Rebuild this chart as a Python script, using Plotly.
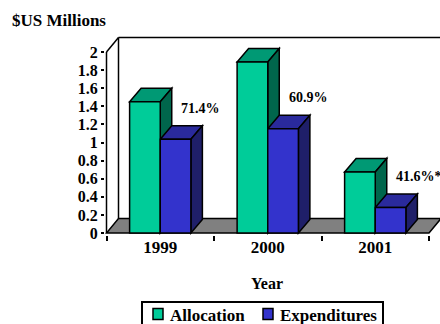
import plotly.graph_objects as go

# ---- data -------------------------------------------------------------
years = ["1999", "2000", "2001"]
allocation = [1.45, 1.89, 0.675]       # $US millions
expenditures = [1.035, 1.151, 0.281]   # $US millions
footnote_marks = ["", "", "*"]

# ---- geometry (pixels) -------------------------------------------------
W, H = 440, 324
ML, MR, MT, MB = 105, 0, 35, 89
X0_PX, KX = 106.5, 107.5      # pixel of x=-0.5, pixels per category
Y0_PX, KY = 233.0, 90.5       # pixel of y=0, pixels per $1M
x_range = [-0.5 - (X0_PX - ML) / KX, -0.5 + (W - MR - X0_PX) / KX]
y_range = [-(H - MB - Y0_PX) / KY, (Y0_PX - MT) / KY]
plot_w = W - ML - MR
plot_h = H - MT - MB


def px(xp):
    """pixel column -> paper x"""
    return (xp - ML) / plot_w


def py(yp):
    """pixel row -> paper y"""
    return (H - MB - yp) / plot_h


# oblique depth offsets converted to data units
WALL_DX, WALL_DY = 12.0 / KX, 14.5 / KY
BAR_DX, BAR_DY = 11.5 / KX, 13.5 / KY
BW = 0.285
Y_TOP = 2.0
X_LO, X_HI = -0.5, len(years) - 0.5

FONT = "Liberation Serif, Times New Roman, Times, serif"
LINE = dict(color="black", width=1.5)

ALLOC_C = ("#00CC99", "#009974", "#00664C")   # front, top, side
EXP_C = ("#3333CC", "#2A2A9C", "#1F1F69")


def bold(size):
    return dict(family=FONT, size=size, color="black", weight="bold")


def poly(pts, fill, layer="below"):
    d = "M " + " L ".join(f"{x},{y}" for x, y in pts) + " Z"
    return dict(type="path", path=d, xref="x", yref="y", fillcolor=fill,
                line=LINE, layer=layer)


def seg(x0, y0, x1, y1, layer="below"):
    return dict(type="line", x0=x0, y0=y0, x1=x1, y1=y1, xref="x", yref="y",
                line=LINE, layer=layer)


shapes = []
# floor
shapes.append(poly([(X_LO, 0), (X_HI, 0), (X_HI + WALL_DX, WALL_DY),
                    (X_LO + WALL_DX, WALL_DY)], "#808080"))
# back wall edges and front value axis
shapes.append(seg(X_LO + WALL_DX, WALL_DY, X_LO + WALL_DX, Y_TOP + WALL_DY))
shapes.append(seg(X_LO + WALL_DX, Y_TOP + WALL_DY, X_HI + WALL_DX, Y_TOP + WALL_DY))
shapes.append(seg(X_LO, 0, X_LO, Y_TOP))
shapes.append(seg(X_LO, Y_TOP, X_LO + WALL_DX, Y_TOP + WALL_DY))


def box_faces(x0, x1, v, cols):
    top = poly([(x0, v), (x1, v), (x1 + BAR_DX, v + BAR_DY),
                (x0 + BAR_DX, v + BAR_DY)], cols[1])
    side = poly([(x1, 0), (x1, v), (x1 + BAR_DX, v + BAR_DY),
                 (x1 + BAR_DX, BAR_DY)], cols[2])
    return [top, side]


for i, (a, e) in enumerate(zip(allocation, expenditures)):
    shapes += box_faces(i - BW, i, a, ALLOC_C)
    shapes += box_faces(i, i + BW, e, EXP_C)

fig = go.Figure()
fig.add_trace(go.Bar(name="Allocation", x=list(range(len(years))), y=allocation,
                     width=BW, offset=-BW,
                     marker=dict(color=ALLOC_C[0], line=LINE)))
fig.add_trace(go.Bar(name="Expenditures", x=list(range(len(years))), y=expenditures,
                     width=BW, offset=0,
                     marker=dict(color=EXP_C[0], line=LINE)))

annotations = []
for i, (a, e, m) in enumerate(zip(allocation, expenditures, footnote_marks)):
    annotations.append(dict(
        x=i, y=e, xref="x", yref="y", text=f"{e / a * 100:.1f}%{m}",
        showarrow=False, xanchor="left", yanchor="middle", xshift=19, yshift=31,
        font=bold(14)))

annotations.append(dict(
    x=px(267), y=py(283), xref="paper", yref="paper",
    text="Year", showarrow=False, xanchor="center", yanchor="middle",
    font=bold(16)))
annotations.append(dict(
    x=px(10), y=py(20), xref="paper", yref="paper",
    text="$US Millions", showarrow=False, xanchor="left", yanchor="middle",
    font=bold(17)))

# legend box with a swatch and a name per series
shapes.append(dict(type="rect", xref="paper", yref="paper",
                   x0=px(142), x1=px(383), y0=py(330), y1=py(302),
                   line=dict(color="black", width=2), fillcolor="white"))
legend_slots = [153, 263]   # swatch left edge of each entry
for left, tr in zip(legend_slots, fig.data):
    shapes.append(dict(type="rect", xref="paper", yref="paper",
                       x0=px(left), x1=px(left + 10), y0=py(319.5), y1=py(308.5),
                       line=dict(color="black", width=1.5),
                       fillcolor=tr.marker.color))
    annotations.append(dict(
        x=px(left + 15), y=py(315), xref="paper", yref="paper", text=tr.name,
        showarrow=False, xanchor="left", yanchor="middle",
        font=bold(17)))

fig.update_layout(
    width=W, height=H,
    margin=dict(l=ML, r=MR, t=MT, b=MB, pad=0, autoexpand=False),
    paper_bgcolor="white", plot_bgcolor="white",
    barmode="overlay",
    font=bold(16),
    shapes=shapes,
    annotations=annotations,
    showlegend=False,
    xaxis=dict(range=x_range, tickmode="array", tickvals=list(range(len(years))),
               ticktext=years, ticks="", showgrid=False, zeroline=False,
               showline=False, fixedrange=True, tickfont=bold(17),
               minor=dict(tickmode="array",
                          tickvals=[k - 0.5 for k in range(len(years) + 1)],
                          ticks="outside", ticklen=5, tickwidth=1.5,
                          tickcolor="black", showgrid=False)),
    yaxis=dict(range=y_range, tickmode="linear", tick0=0, dtick=0.2,
               ticks="outside", ticklen=3, tickwidth=1.5, tickcolor="black",
               showgrid=False, zeroline=False, showline=False, fixedrange=True,
               tickfont=bold(16)),
)

fig.write_html("out.html")
